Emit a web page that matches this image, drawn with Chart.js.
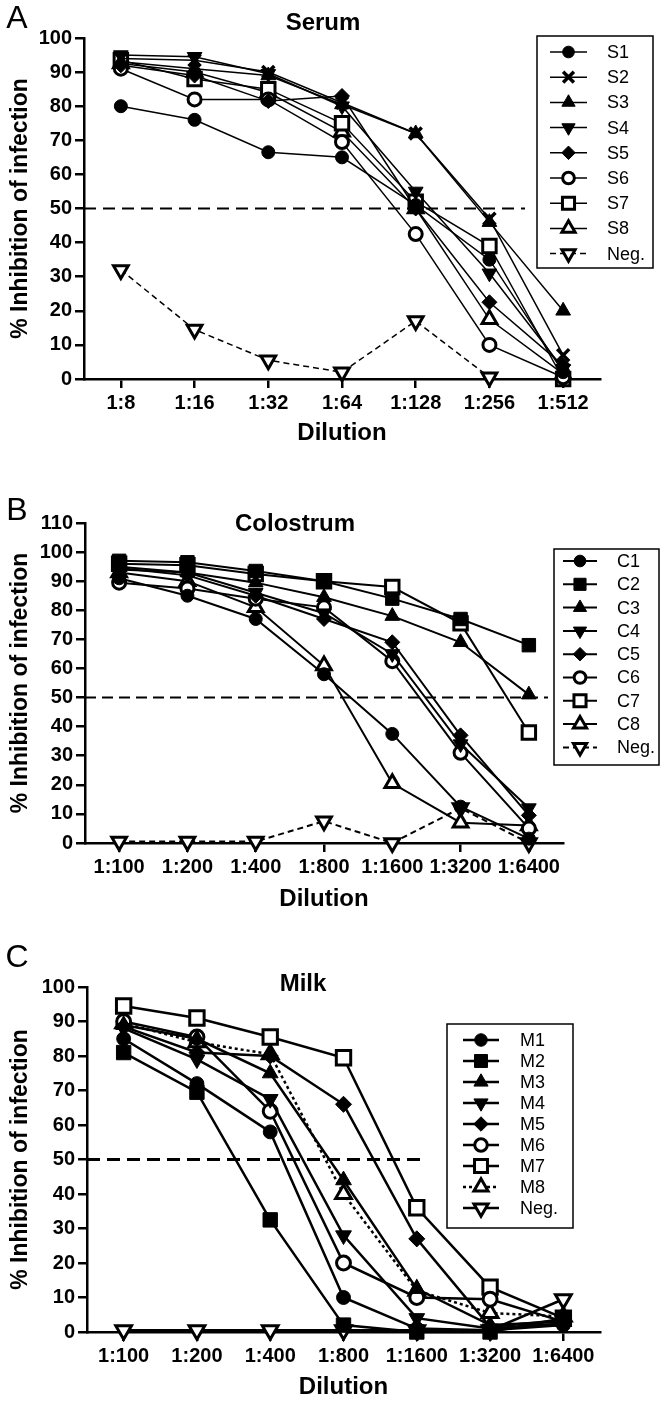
<!DOCTYPE html>
<html>
<head>
<meta charset="utf-8">
<title>Inhibition of infection</title>
<script src="https://cdn.jsdelivr.net/npm/chart.js@4.4.1/dist/chart.umd.min.js"></script>
<style>
  body { margin: 0; background: #fff; }
  .panel { position: absolute; left: 0; }
</style>
</head>
<body>
<canvas id="serumChart" class="panel" width="666" height="460" style="top:0"></canvas>
<canvas id="colostrumChart" class="panel" width="666" height="470" style="top:460px"></canvas>
<canvas id="milkChart" class="panel" width="666" height="482" style="top:930px"></canvas>
<script>
// Tick labels
const serumLabels = ['1:8', '1:16', '1:32', '1:64', '1:128', '1:256', '1:512'];
const dilutionLabels = ['1:100', '1:200', '1:400', '1:800', '1:1600', '1:3200', '1:6400'];

// Serum (% inhibition)
const s1 = [80, 76, 66.5, 65, 51, 35, 2];
const s2 = [94, 93.5, 90, 81, 72, 47, 7];
const s3 = [93, 91, 89, 80.5, 72, 46, 20];
const s4 = [95, 94.5, 89.5, 80, 55, 31, 3];
const s5 = [92, 89, 81.5, 83, 50, 22.5, 4];
const s6 = [91, 82, 82, 69.5, 42.5, 10, 0.5];
const s7 = [93.5, 88, 85, 75, 52, 39, 0];
const s8 = [92.5, 90, 84, 72.5, 50, 17.5, 1.5];
const serumNeg = [32, 14.5, 5.5, 2, 17, 0.5, null];

// Colostrum
const c1 = [91, 85, 77, 58, 37.5, 12.5, 1.5];
const c2 = [97, 96.5, 93.5, 90, 84, 77, 68];
const c3 = [95, 93, 89.5, 84.5, 78, 69, 51];
const c4 = [94, 93, 86, 79, 65, 34, 12];
const c5 = [94.5, 92, 85, 77, 69, 37, 9.5];
const c6 = [89.5, 87.5, 84, 81, 62.5, 31, 5];
const c7 = [96, 95.5, 92.5, 90, 88, 75.5, 38];
const c8 = [93, 90, 81, 61, 20.5, 7, 6];
const colostrumNeg = [0.5, 0.5, 0.5, 7.5, 0, 12, 0];

// Milk
const m1 = [85, 72, 58, 10, 1, 0.5, 2];
const m2 = [81, 69.5, 32.5, 2, 0, 0, 4];
const m3 = [89, 85, 75, 44, 12.5, 2, 3];
const m4 = [88, 79, 67.5, 28, 4, 1, 2.5];
const m5 = [88.5, 81, 80, 66, 27, 1.5, 3.5];
const m6 = [90, 85.5, 64, 20, 10, 9.5, 3];
const m7 = [94.5, 91, 85.5, 79.5, 36, 13, 4];
const m8 = [89.5, 84, 80.5, 40, 12, 5.5, 4.5];
const milkNeg = [0.5, 0.5, 0.5, 0.5, 0.5, 0.5, 9.5];

const FONT = '"Liberation Sans", Arial, Helvetica, sans-serif';
Chart.defaults.font.family = FONT;
Chart.defaults.color = '#000';

const markers = {
    dot:      { pointStyle: 'circle',   open: false },
    cross:    { pointStyle: 'crossRot', open: false },
    square:   { pointStyle: 'rect',     open: false },
    up:       { pointStyle: 'triangle', open: false },
    down:     { pointStyle: 'triangle', open: false, rotation: 180 },
    diamond:  { pointStyle: 'rectRot',  open: false },
    ring:     { pointStyle: 'circle',   open: true },
    box:      { pointStyle: 'rect',     open: true },
    upOpen:   { pointStyle: 'triangle', open: true },
    downOpen: { pointStyle: 'triangle', open: true, rotation: 180 }
};
const pointSizes = { circle: 6.5, rect: 9.5, triangle: 8.5, rectRot: 7.5, crossRot: 8.5 };

const buildSet = (label, values, marker, panel, dash) => {
    const m = markers[marker];
    let bw = 1;
    if (m.open) bw = 3;
    if (m.pointStyle === 'crossRot') bw = 3.5;
    return {
        label: label,
        data: values,
        borderColor: '#000',
        borderWidth: panel.lineWidth,
        borderDash: dash || [],
        pointStyle: m.pointStyle,
        pointRotation: m.rotation || 0,
        pointRadius: pointSizes[m.pointStyle] * panel.markerScale,
        pointBackgroundColor: m.open ? '#fff' : '#000',
        pointBorderColor: '#000',
        pointBorderWidth: bw,
        tension: 0,
        fill: false,
        clip: false
    };
};

// Panel letter, title, 50% line and boxed legend
const panelDecor = {
    id: 'panelDecor',
    beforeDatasetsDraw(chart, args, opts) {
        const { ctx, chartArea } = chart;
        const y = chart.scales.y.getPixelForValue(50);
        ctx.save();
        ctx.strokeStyle = '#000';
        ctx.lineWidth = opts.refWidth;
        ctx.setLineDash(opts.refDash);
        ctx.beginPath();
        ctx.moveTo(chartArea.left, y);
        ctx.lineTo(opts.refEnd, y);
        ctx.stroke();
        ctx.restore();
    },
    afterDraw(chart, args, opts) {
        const ctx = chart.ctx;
        ctx.save();
        ctx.fillStyle = '#000';
        ctx.textBaseline = 'middle';
        ctx.textAlign = 'center';
        ctx.font = '32px ' + FONT;
        ctx.fillText(opts.letter, opts.letterPos[0], opts.letterPos[1]);
        ctx.font = 'bold 24px ' + FONT;
        ctx.fillText(opts.title, opts.titlePos[0], opts.titlePos[1]);

        // legend
        const lg = opts.legend;
        ctx.fillStyle = '#fff';
        ctx.fillRect(lg.x, lg.y, lg.w, lg.h);
        ctx.strokeStyle = '#000';
        ctx.lineWidth = 1.5;
        ctx.strokeRect(lg.x, lg.y, lg.w, lg.h);
        ctx.font = lg.fontSize + 'px ' + FONT;
        ctx.textAlign = 'left';
        chart.data.datasets.forEach((ds, i) => {
            const rowY = lg.firstRow + i * lg.rowGap;
            ctx.strokeStyle = '#000';
            ctx.lineWidth = ds.borderWidth;
            ctx.setLineDash(ds.borderDash);
            ctx.beginPath();
            ctx.moveTo(lg.lineFrom, rowY);
            ctx.lineTo(lg.lineTo, rowY);
            ctx.stroke();
            ctx.setLineDash([]);
            ctx.fillStyle = ds.pointBackgroundColor;
            ctx.lineWidth = ds.pointBorderWidth;
            Chart.helpers.drawPoint(ctx, {
                pointStyle: ds.pointStyle,
                rotation: ds.pointRotation,
                radius: ds.pointRadius * 0.9,
                borderWidth: ds.pointBorderWidth
            }, (lg.lineFrom + lg.lineTo) / 2, rowY);
            ctx.fillStyle = '#000';
            ctx.fillText(ds.label, lg.textX, rowY + 1);
        });
        ctx.restore();
    }
};

const makePanel = (canvasId, labels, datasets, panel) => {
    const canvas = document.getElementById(canvasId);
    const axisGrid = {
        display: true,
        drawOnChartArea: false,
        drawTicks: true,
        tickLength: 9,
        color: '#000',
        lineWidth: 2.5
    };
    return new Chart(canvas.getContext('2d'), {
        type: 'line',
        data: { labels: labels, datasets: datasets },
        plugins: [panelDecor],
        options: {
            responsive: false,
            maintainAspectRatio: false,
            devicePixelRatio: 1,
            animation: false,
            events: [],
            layout: {
                padding: { top: panel.plotTop, left: 0, right: canvas.width - panel.plotRight, bottom: 0 }
            },
            plugins: {
                legend: { display: false },
                title: { display: false },
                tooltip: { enabled: false },
                panelDecor: panel.decor
            },
            scales: {
                x: {
                    type: 'category',
                    offset: true,
                    grid: Object.assign({}, axisGrid, { offset: false }),
                    border: { display: true, color: '#000', width: 2.5 },
                    ticks: { font: { size: 20, weight: 'bold' }, padding: 3, maxRotation: 0, autoSkip: false },
                    title: {
                        display: true,
                        text: 'Dilution',
                        font: { size: 24, weight: 'bold' },
                        padding: { top: 0, bottom: panel.xTitlePad }
                    },
                    afterFit: (scale) => { scale.height = canvas.height - panel.plotBottom; }
                },
                y: {
                    min: 0,
                    max: panel.yMax,
                    grid: axisGrid,
                    border: { display: true, color: '#000', width: 2.5 },
                    ticks: { stepSize: 10, font: { size: 20, weight: 'bold' }, padding: 3 },
                    title: {
                        display: true,
                        text: '% Inhibition of infection',
                        font: { size: 23, weight: 'bold' },
                        padding: { top: 7, bottom: 0 }
                    },
                    afterFit: (scale) => { scale.width = panel.plotLeft; }
                }
            }
        }
    });
};

document.addEventListener('DOMContentLoaded', () => {
    const serumPanel = {
        plotTop: 38, plotBottom: 379, plotLeft: 84, plotRight: 600, yMax: 100,
        lineWidth: 1.5, markerScale: 1, xTitlePad: 12,
        decor: {
            letter: 'A', letterPos: [17, 19], title: 'Serum', titlePos: [323, 23],
            refEnd: 525, refWidth: 2, refDash: [12, 7],
            legend: { x: 537, y: 36, w: 116, h: 232, firstRow: 52, rowGap: 25.2,
                      lineFrom: 550, lineTo: 587, textX: 607, fontSize: 18 }
        }
    };
    makePanel('serumChart', serumLabels, [
        buildSet('S1', s1, 'dot', serumPanel),
        buildSet('S2', s2, 'cross', serumPanel),
        buildSet('S3', s3, 'up', serumPanel),
        buildSet('S4', s4, 'down', serumPanel),
        buildSet('S5', s5, 'diamond', serumPanel),
        buildSet('S6', s6, 'ring', serumPanel),
        buildSet('S7', s7, 'box', serumPanel),
        buildSet('S8', s8, 'upOpen', serumPanel),
        buildSet('Neg.', serumNeg, 'downOpen', serumPanel, [6, 4])
    ], serumPanel);

    const colostrumPanel = {
        plotTop: 63, plotBottom: 383, plotLeft: 85, plotRight: 563, yMax: 110,
        lineWidth: 2, markerScale: 1, xTitlePad: 16,
        decor: {
            letter: 'B', letterPos: [17, 51], title: 'Colostrum', titlePos: [295, 64],
            refEnd: 548, refWidth: 2, refDash: [11, 6],
            legend: { x: 554, y: 89, w: 105, h: 216, firstRow: 101, rowGap: 23.3,
                      lineFrom: 563, lineTo: 597, textX: 617, fontSize: 18 }
        }
    };
    makePanel('colostrumChart', dilutionLabels, [
        buildSet('C1', c1, 'dot', colostrumPanel),
        buildSet('C2', c2, 'square', colostrumPanel),
        buildSet('C3', c3, 'up', colostrumPanel),
        buildSet('C4', c4, 'down', colostrumPanel),
        buildSet('C5', c5, 'diamond', colostrumPanel),
        buildSet('C6', c6, 'ring', colostrumPanel),
        buildSet('C7', c7, 'box', colostrumPanel),
        buildSet('C8', c8, 'upOpen', colostrumPanel),
        buildSet('Neg.', colostrumNeg, 'downOpen', colostrumPanel, [6, 4])
    ], colostrumPanel);

    const milkPanel = {
        plotTop: 57, plotBottom: 402, plotLeft: 87, plotRight: 600, yMax: 100,
        lineWidth: 2.5, markerScale: 1.07, xTitlePad: 10,
        decor: {
            letter: 'C', letterPos: [17, 28], title: 'Milk', titlePos: [303, 54],
            refEnd: 427, refWidth: 3, refDash: [13, 7],
            legend: { x: 447, y: 94, w: 126, h: 204, firstRow: 110, rowGap: 21,
                      lineFrom: 463, lineTo: 499, textX: 520, fontSize: 18 }
        }
    };
    makePanel('milkChart', dilutionLabels, [
        buildSet('M1', m1, 'dot', milkPanel),
        buildSet('M2', m2, 'square', milkPanel),
        buildSet('M3', m3, 'up', milkPanel),
        buildSet('M4', m4, 'down', milkPanel),
        buildSet('M5', m5, 'diamond', milkPanel),
        buildSet('M6', m6, 'ring', milkPanel),
        buildSet('M7', m7, 'box', milkPanel),
        buildSet('M8', m8, 'upOpen', milkPanel, [3, 3]),
        buildSet('Neg.', milkNeg, 'downOpen', milkPanel)
    ], milkPanel);
});
</script>
</body>
</html>
